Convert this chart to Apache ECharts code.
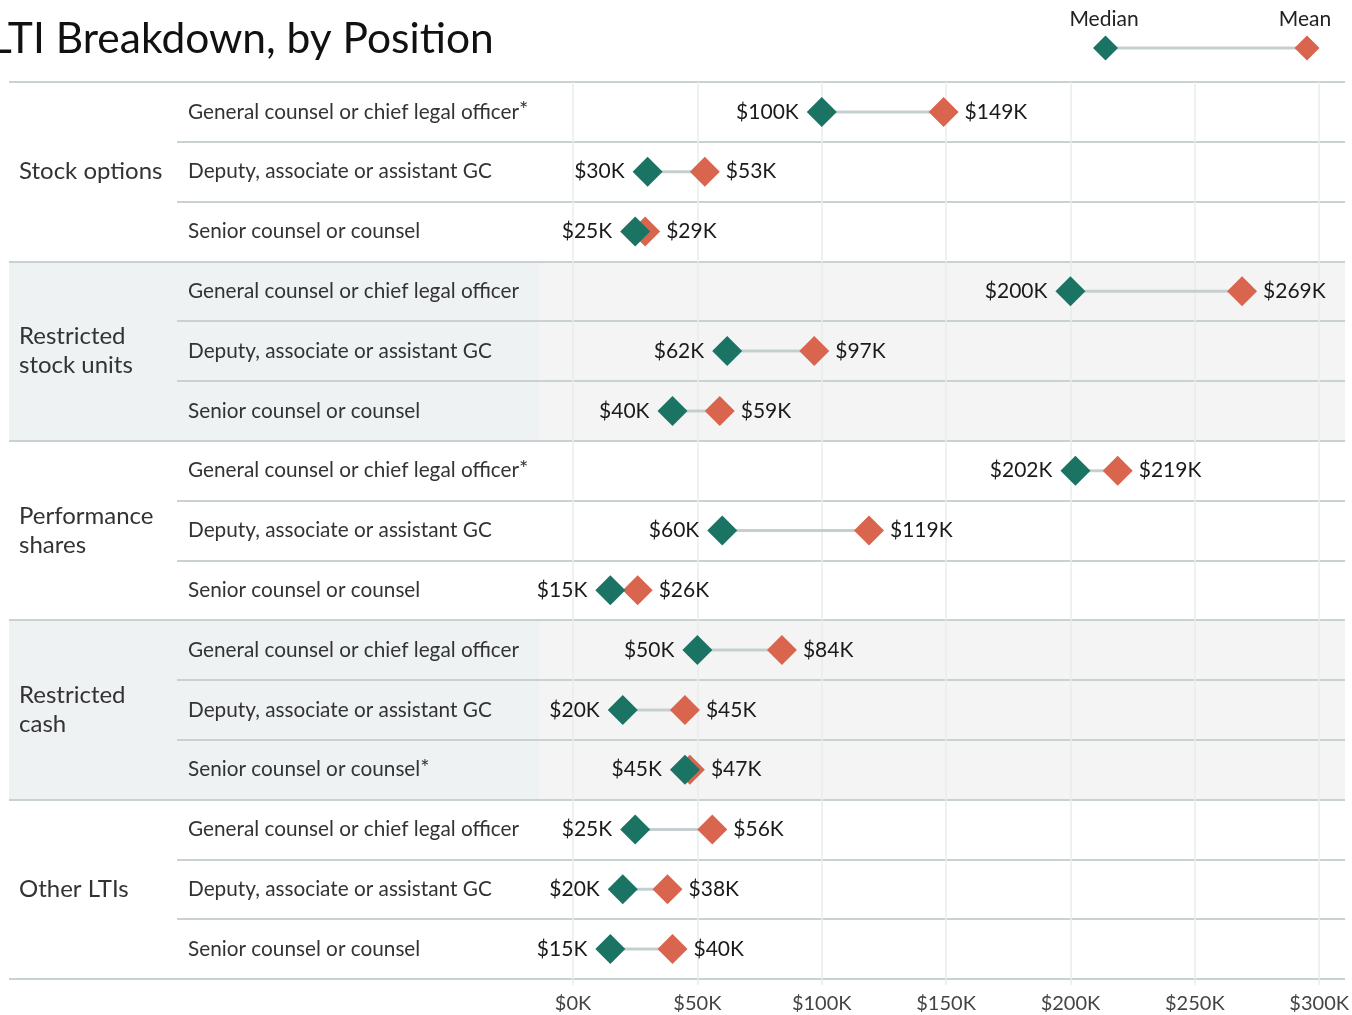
<!DOCTYPE html>
<html>
<head>
<meta charset="utf-8">
<script src="https://cdn.jsdelivr.net/npm/echarts@6/dist/echarts.min.js"></script>
<style>
  html, body { margin: 0; padding: 0; background: #fff; }
  #chart { width: 1352px; height: 1015px; }
</style>
</head>
<body>
<div id="chart"></div>
<script>
// LTI values in $K, one row per group x position
const groups = ['Stock options', 'Restricted\nstock units', 'Performance\nshares', 'Restricted\ncash', 'Other LTIs']
const positions = [
  'General counsel or chief legal officer',
  'Deputy, associate or assistant GC',
  'Senior counsel or counsel'
]
const footnotedRows = [0, 6, 11]
const medianK = [100, 30, 25, 200, 62, 40, 202, 60, 15, 50, 20, 45, 25, 20, 15]
const meanK = [149, 53, 29, 269, 97, 59, 219, 119, 26, 84, 45, 47, 56, 38, 40]

const rows = groups.flatMap(() => positions)
const rowIdx = rows.map((_, i) => String(i))

const GREEN = '#1b7463'
const ORANGE = '#d9654f'
const LINK = '#c5cfcf'
const RULE = '#c9d1d1'
const GRIDLINE = '#e6ecec'
const FONT = 'Lato'

const gridTop = 82
const gridBottom = 36

const chart = echarts.init(document.getElementById('chart'))

const rowAxisBase = {
  type: 'category',
  inverse: true,
  axisLine: { show: false },
  axisTick: { show: false }
}

chart.setOption({
  animation: false,
  title: {
    text: 'LTI Breakdown, by Position',
    left: -15,
    top: 13,
    textStyle: { fontFamily: FONT, fontSize: 42.5, fontWeight: 'normal', color: '#111' }
  },
  grid: [
    { left: 9, width: 530, top: gridTop, bottom: gridBottom },   // group labels, left shading
    { left: 539, right: 7, top: gridTop, bottom: gridBottom },   // right shading
    { left: 177, right: 7, top: gridTop, bottom: gridBottom },   // position labels and row rules
    { left: 573, right: 31, top: gridTop, bottom: gridBottom }   // values
  ],
  xAxis: [
    { gridIndex: 0, type: 'value', show: false },
    { gridIndex: 1, type: 'value', show: false },
    { gridIndex: 2, type: 'value', show: false },
    {
      gridIndex: 3,
      type: 'value',
      min: 0,
      max: 300,
      interval: 50,
      z: 3,
      axisLine: { show: false },
      axisTick: { show: true, length: 6, lineStyle: { color: GRIDLINE, width: 1.5 } },
      splitLine: { show: true, lineStyle: { color: GRIDLINE, width: 1.5 } },
      axisLabel: {
        margin: 15,
        fontFamily: FONT,
        fontSize: 20,
        color: '#444',
        formatter: v => '$' + v + 'K'
      }
    }
  ],
  yAxis: [
    {
      ...rowAxisBase,
      gridIndex: 0,
      data: groups,
      splitArea: { show: true, areaStyle: { color: ['rgba(0,0,0,0)', '#eff2f2'] } },
      splitLine: { show: true, lineStyle: { color: RULE, width: 2 } },
      axisLabel: {
        inside: true,
        margin: 10,
        fontFamily: FONT,
        fontSize: 24,
        lineHeight: 29,
        color: '#333'
      }
    },
    {
      ...rowAxisBase,
      gridIndex: 1,
      data: groups,
      axisLabel: { show: false },
      splitArea: { show: true, areaStyle: { color: ['rgba(0,0,0,0)', '#f4f4f4'] } },
      splitLine: { show: true, lineStyle: { color: RULE, width: 2 } }
    },
    {
      ...rowAxisBase,
      gridIndex: 2,
      z: 2,
      data: rowIdx,
      splitLine: { show: true, lineStyle: { color: RULE, width: 2 } },
      axisLabel: {
        inside: true,
        margin: 11,
        fontFamily: FONT,
        fontSize: 20.75,
        lineHeight: 26,
        color: '#333',
        formatter: (v, i) => '{t|' + rows[i] + '}' + (footnotedRows.includes(i) ? '{sup|*}' : ''),
        rich: {
          t: { fontFamily: FONT, fontSize: 20.75, lineHeight: 26, color: '#333' },
          sup: { fontFamily: FONT, fontSize: 22, lineHeight: 22, color: '#333', verticalAlign: 'top' }
        }
      }
    },
    { ...rowAxisBase, gridIndex: 3, data: rowIdx, show: false }
  ],
  graphic: [
    { type: 'text', x: 1104, y: 19, style: { text: 'Median', align: 'center', verticalAlign: 'middle', font: '21px Lato', fill: '#222' } },
    { type: 'text', x: 1305, y: 19, style: { text: 'Mean', align: 'center', verticalAlign: 'middle', font: '21px Lato', fill: '#222' } },
    { type: 'line', shape: { x1: 1105, y1: 48, x2: 1307, y2: 48 }, style: { stroke: LINK, lineWidth: 3 } },
    { type: 'polygon', shape: { points: [[1105.5, 35.5], [1118, 48], [1105.5, 60.5], [1093, 48]] }, style: { fill: GREEN } },
    { type: 'polygon', shape: { points: [[1307, 35.5], [1319.5, 48], [1307, 60.5], [1294.5, 48]] }, style: { fill: ORANGE } }
  ],
  series: [
    {
      type: 'custom',
      xAxisIndex: 3,
      yAxisIndex: 3,
      z: 4,
      encode: { x: [0, 1], y: 2 },
      data: rowIdx.map((r, i) => [medianK[i], meanK[i], i]),
      renderItem: (params, api) => {
        const a = api.coord([api.value(0), api.value(2)])
        const b = api.coord([api.value(1), api.value(2)])
        return {
          type: 'line',
          shape: { x1: a[0], y1: a[1], x2: b[0], y2: b[1] },
          style: { stroke: LINK, lineWidth: 3 }
        }
      }
    },
    {
      name: 'Mean',
      type: 'scatter',
      xAxisIndex: 3,
      yAxisIndex: 3,
      z: 5,
      symbol: 'diamond',
      symbolSize: 30,
      itemStyle: { color: ORANGE, opacity: 1 },
      data: meanK.map((v, i) => [v, i]),
      label: {
        show: true,
        position: 'right',
        distance: 6,
        fontFamily: FONT,
        fontSize: 21,
        color: '#1a1a1a',
        formatter: p => '$' + p.value[0] + 'K'
      }
    },
    {
      name: 'Median',
      type: 'scatter',
      xAxisIndex: 3,
      yAxisIndex: 3,
      z: 6,
      symbol: 'diamond',
      symbolSize: 30,
      itemStyle: { color: GREEN, opacity: 1 },
      data: medianK.map((v, i) => [v, i]),
      label: {
        show: true,
        position: 'left',
        distance: 8,
        fontFamily: FONT,
        fontSize: 21,
        color: '#1a1a1a',
        formatter: p => '$' + p.value[0] + 'K'
      }
    }
  ]
})
</script>
</body>
</html>
